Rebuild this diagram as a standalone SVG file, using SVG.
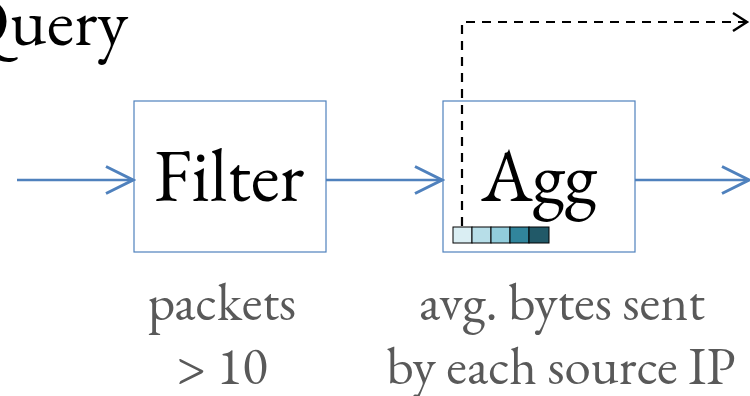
<svg xmlns="http://www.w3.org/2000/svg" width="750" height="396" viewBox="0 0 750 396">
<defs>
<style>
.box{fill:#fff;stroke:#4F81BD;stroke-width:1.2}
.flow{fill:none;stroke:#4F81BD;stroke-width:2.6}
.dash{fill:none;stroke:#000;stroke-width:2.2;stroke-dasharray:9,7}
.big{font-family:"EB Garamond","Liberation Serif",serif;font-size:74px;fill:#000;text-anchor:middle}
.lbl{font-family:"EB Garamond","Liberation Serif",serif;font-size:53px;fill:#595959;text-anchor:middle}
.cell{stroke:#000;stroke-width:1}
</style>
<marker id="ab" markerWidth="32" markerHeight="32" refX="29" refY="16" orient="auto" markerUnits="userSpaceOnUse">
<path d="M2,2.5 L29,16 L2,29.5" fill="none" stroke="#4F81BD" stroke-width="3"/>
</marker>
<marker id="ak" markerWidth="20" markerHeight="24" refX="16" refY="12" orient="auto" markerUnits="userSpaceOnUse">
<path d="M2,3 L16,12 L2,21" fill="none" stroke="#000" stroke-width="2.4"/>
</marker>
</defs>
<text x="128" y="45" text-anchor="end" font-family="EB Garamond, Liberation Serif, serif" font-size="70" fill="#000">Query</text>
<g id="filter">
<rect class="box" x="134" y="101" width="192" height="151"/>
<text class="big" x="229" y="201">Filter</text>
</g>
<g id="agg">
<rect class="box" x="443" y="101" width="192" height="151"/>
<text class="big" x="539" y="201">Agg</text>
<rect class="cell" x="453" y="227" width="19" height="16" fill="#DAEEF3"/>
<rect class="cell" x="472" y="227" width="19" height="16" fill="#B7DEE8"/>
<rect class="cell" x="491" y="227" width="19" height="16" fill="#92CDDC"/>
<rect class="cell" x="510" y="227" width="19" height="16" fill="#31859C"/>
<rect class="cell" x="529" y="227" width="20" height="16" fill="#215968"/>
</g>
<g id="connectors">
<line class="flow" x1="17" y1="180" x2="133" y2="180" marker-end="url(#ab)"/>
<line class="flow" x1="326" y1="180" x2="442" y2="180" marker-end="url(#ab)"/>
<line class="flow" x1="635" y1="180" x2="749" y2="180" marker-end="url(#ab)"/>
<path class="dash" d="M462,226 V22 H747" marker-end="url(#ak)"/>
</g>
<g id="labels">
<text class="lbl" x="222" y="320">packets</text>
<text class="lbl" x="222" y="384">&gt; 10</text>
<text class="lbl" x="562" y="320">avg. bytes sent</text>
<text class="lbl" x="561" y="384">by each source IP</text>
</g>
</svg>
